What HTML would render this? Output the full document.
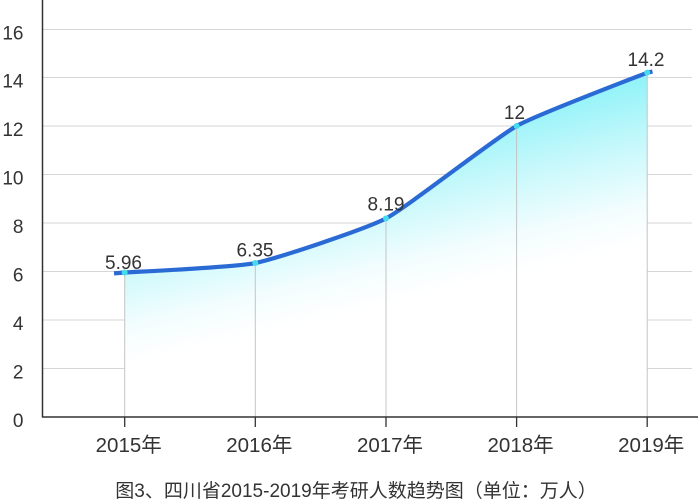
<!DOCTYPE html>
<html>
<head>
<meta charset="utf-8">
<style>
  html, body { margin: 0; padding: 0; background: #ffffff; }
  body { width: 698px; height: 500px; overflow: hidden; }
  svg { display: block; }
  text { font-family: "Liberation Sans", "Noto Sans CJK SC", sans-serif; fill: #333333; }
</style>
</head>
<body>
<svg width="698" height="500" viewBox="0 0 698 500" xmlns="http://www.w3.org/2000/svg">
  <defs>
    <linearGradient id="fillg" gradientUnits="userSpaceOnUse" x1="124" y1="366" x2="85" y2="200">
      <stop offset="0" stop-color="#ffffff"/>
      <stop offset="0.22" stop-color="#f3fdfe"/>
      <stop offset="0.6" stop-color="#c4f8fb"/>
      <stop offset="1" stop-color="#8af2f8"/>
    </linearGradient>
  </defs>

  <!-- horizontal gridlines -->
  <g stroke="#d6d6d6" stroke-width="1">
    <line x1="43" y1="29.5" x2="692" y2="29.5"/>
    <line x1="43" y1="77.5" x2="692" y2="77.5"/>
    <line x1="43" y1="126" x2="692" y2="126"/>
    <line x1="43" y1="174.5" x2="692" y2="174.5"/>
    <line x1="43" y1="223" x2="692" y2="223"/>
    <line x1="43" y1="271.5" x2="692" y2="271.5"/>
    <line x1="43" y1="320" x2="692" y2="320"/>
    <line x1="43" y1="368.5" x2="692" y2="368.5"/>
  </g>

  <!-- area fill -->
  <path d="M124.7,272.5 C135.1,271.8 234.4,267.3 255.3,263 C276.2,258.7 365.1,229.4 386,218.4 C406.9,207.4 495.7,137.7 516.6,126 C537.5,114.3 636.8,76.9 647.2,72.65 L647.2,417 L124.7,417 Z" fill="url(#fillg)"/>

  <!-- drop lines -->
  <g stroke="#c4c4c4" stroke-width="1">
    <line x1="124.7" y1="272.5" x2="124.7" y2="417"/>
    <line x1="255.3" y1="263" x2="255.3" y2="417"/>
    <line x1="386" y1="218.4" x2="386" y2="417"/>
    <line x1="516.6" y1="126" x2="516.6" y2="417"/>
    <line x1="647.2" y1="72.65" x2="647.2" y2="417"/>
  </g>

  <!-- axes -->
  <line x1="42.5" y1="0" x2="42.5" y2="417.5" stroke="#333" stroke-width="1.5"/>
  <line x1="42" y1="417" x2="698" y2="417" stroke="#333" stroke-width="1.5"/>
  <g stroke="#333" stroke-width="1.3">
    <line x1="124.7" y1="417" x2="124.7" y2="427"/>
    <line x1="255.3" y1="417" x2="255.3" y2="427"/>
    <line x1="386" y1="417" x2="386" y2="427"/>
    <line x1="516.6" y1="417" x2="516.6" y2="427"/>
    <line x1="647.2" y1="417" x2="647.2" y2="427"/>
  </g>

  <!-- line -->
  <path d="M114,273.4 L124.7,272.5 C135.1,271.8 234.4,267.3 255.3,263 C276.2,258.7 365.1,229.4 386,218.4 C406.9,207.4 495.7,137.7 516.6,126 C537.5,114.3 636.8,76.9 647.2,72.65 L652.5,71.6" fill="none" stroke="#2a6ad4" stroke-width="4.2" stroke-linejoin="round"/>

  <!-- markers -->
  <g fill="#45dcee">
    <circle cx="124.7" cy="272.5" r="3"/>
    <circle cx="255.3" cy="263" r="3"/>
    <circle cx="386" cy="218.4" r="3"/>
    <circle cx="516.6" cy="126" r="3"/>
    <circle cx="647.2" cy="72.65" r="3"/>
  </g>

  <!-- y tick labels -->
  <g font-size="19" text-anchor="end">
    <text x="23.5" y="39.5">16</text>
    <text x="23.5" y="87.5">14</text>
    <text x="23.5" y="136">12</text>
    <text x="23.5" y="184.5">10</text>
    <text x="23.5" y="233">8</text>
    <text x="23.5" y="281.5">6</text>
    <text x="23.5" y="330">4</text>
    <text x="23.5" y="378.5">2</text>
    <text x="23.5" y="427">0</text>
  </g>

  <!-- data labels -->
  <g font-size="19" text-anchor="middle">
    <text x="123.5" y="269">5.96</text>
    <text x="255" y="256.7">6.35</text>
    <text x="386" y="210.5">8.19</text>
    <text x="514.5" y="119">12</text>
    <text x="646" y="66">14.2</text>
  </g>

  <!-- category labels -->
  <g font-size="20.5" text-anchor="middle">
    <text x="128.7" y="452">2015年</text>
    <text x="259.3" y="452">2016年</text>
    <text x="390" y="452">2017年</text>
    <text x="520.6" y="452">2018年</text>
    <text x="651.2" y="452">2019年</text>
  </g>

  <!-- title -->
  <text x="356" y="497" font-size="19" text-anchor="middle">图3、四川省2015-2019年考研人数趋势图（单位：万人）</text>
</svg>
</body>
</html>
